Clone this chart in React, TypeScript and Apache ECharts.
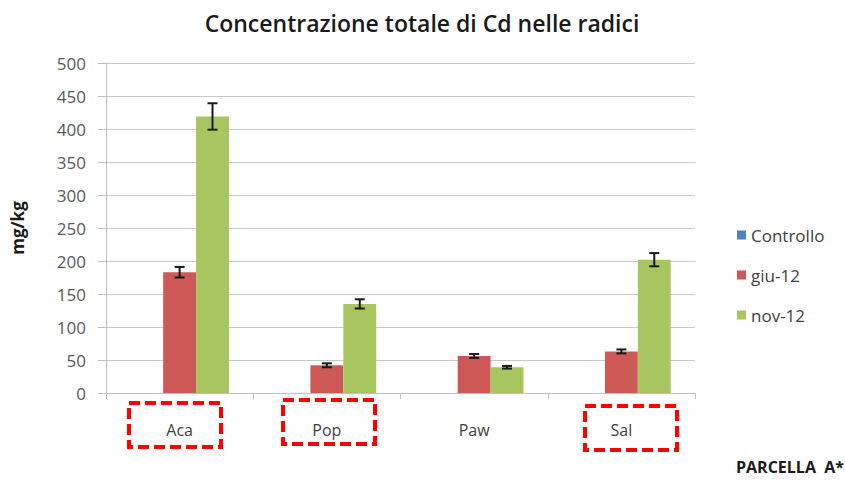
import React, { useEffect, useRef } from "react";
import * as echarts from "echarts";

const categories = ["Aca", "Pop", "Paw", "Sal"];
const controllo = [0, 0, 0, 0];
const giu12 = [183, 42, 56, 63];
const giu12Err = [8, 3, 3, 3];
const nov12 = [419, 135, 39, 202];
const nov12Err = [20, 7, 2, 10];
const yTicks = { min: 0, max: 500, interval: 50 };

const FONT = "'Open Sans', Lato, sans-serif";
const GAP = 0.33;

function errSeries(name: string, vals: number[], errs: number[], slot: number) {
  return {
    type: "custom",
    name: name + "-err",
    silent: true,
    z: 10,
    data: vals.map((v, i) => [i, v, errs[i]]),
    renderItem: (params: any, api: any) => {
      const i = api.value(0);
      const v = api.value(1);
      const e = api.value(2);
      const band = api.size([1, 0])[0];
      const bw = (band * (1 - GAP)) / 3;
      const c = api.coord([i, v]);
      const x = c[0] + slot * bw;
      const top = api.coord([i, v + e])[1];
      const bot = api.coord([i, v - e])[1];
      const cap = 5;
      const st = { stroke: "#1a1a1a", lineWidth: 2 };
      return {
        type: "group",
        children: [
          { type: "line", shape: { x1: x, y1: top, x2: x, y2: bot }, style: st },
          { type: "line", shape: { x1: x - cap, y1: top, x2: x + cap, y2: top }, style: st },
          { type: "line", shape: { x1: x - cap, y1: bot, x2: x + cap, y2: bot }, style: st },
        ],
      };
    },
  };
}

export default function App() {
  const ref = useRef<HTMLDivElement>(null);
  useEffect(() => {
    if (!ref.current) return;
    const chart = echarts.init(ref.current, undefined, { renderer: "svg" });
    const box = (x: number, y: number) => ({
      type: "rect",
      shape: { x, y, width: 92, height: 44 },
      style: { fill: "none", stroke: "#ff0000", lineWidth: 4, lineDash: [11, 5] },
    });
    chart.setOption({
      animation: false,
      backgroundColor: "#ffffff",
      title: {
        text: "Concentrazione totale di Cd nelle radici",
        left: 417,
        textAlign: "center",
        top: 6,
        textStyle: { fontFamily: FONT, fontSize: 23, fontWeight: 600, color: "#1a1a1a" },
      },
      legend: {
        orient: "vertical",
        left: 732,
        top: 218,
        itemWidth: 9,
        itemHeight: 9,
        itemGap: 16,
        icon: "rect",
        data: ["Controllo", "giu-12", "nov-12"],
        textStyle: { fontFamily: FONT, fontSize: 17, color: "#404040", lineHeight: 24 },
      },
      grid: { left: 106, right: 150, top: 63, bottom: 88, containLabel: false },
      xAxis: {
        type: "category",
        data: categories,
        axisLine: { lineStyle: { color: "#bfbfbf", width: 1 } },
        axisTick: { show: true, length: 6, lineStyle: { color: "#bfbfbf" } },
        axisLabel: { margin: 29, fontFamily: FONT, fontSize: 16, color: "#404040" },
      },
      yAxis: {
        type: "value",
        min: yTicks.min,
        max: yTicks.max,
        interval: yTicks.interval,
        name: "mg/kg",
        nameLocation: "middle",
        nameRotate: 90,
        nameGap: 80,
        nameTextStyle: { fontFamily: FONT, fontSize: 17, fontWeight: "bold", color: "#1a1a1a" },
        axisLine: { show: true, lineStyle: { color: "#bfbfbf", width: 1 } },
        axisTick: { show: true, length: 8, lineStyle: { color: "#bfbfbf" } },
        axisLabel: { margin: 20, fontFamily: FONT, fontSize: 17, color: "#595959" },
        splitLine: { lineStyle: { color: "#c8c8c8", width: 1 } },
      },
      series: [
        { type: "bar", name: "Controllo", data: controllo, itemStyle: { color: "#4f81bd" }, barGap: "0%", barCategoryGap: "33%" },
        { type: "bar", name: "giu-12", data: giu12, itemStyle: { color: "#cd5957" }, barGap: "0%", barCategoryGap: "33%" },
        { type: "bar", name: "nov-12", data: nov12, itemStyle: { color: "#a7c660" }, barGap: "0%", barCategoryGap: "33%" },
        errSeries("giu-12", giu12, giu12Err, 0),
        errSeries("nov-12", nov12, nov12Err, 1),
      ],
      graphic: [
        box(129, 403),
        box(283, 400),
        box(585, 406),
        {
          type: "text",
          right: 1,
          top: 459,
          style: { text: "PARCELLA  A*", fontFamily: FONT, fontSize: 16, fontWeight: "bold", fill: "#1a1a1a" },
        },
      ],
    });
    return () => chart.dispose();
  }, []);
  return <div ref={ref} style={{ position: "absolute", left: 0, top: 0, width: 845, height: 481 }} />;
}
